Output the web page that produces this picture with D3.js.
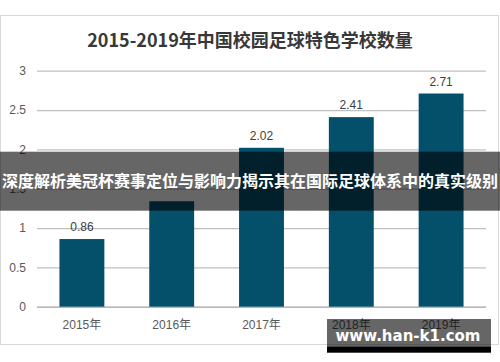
<!DOCTYPE html>
<html>
<head>
<meta charset="utf-8">
<script src="https://cdn.jsdelivr.net/npm/d3@7"></script>
<style>
  body { margin: 0; background: #fff; }
  svg { display: block; }
</style>
</head>
<body>
<svg id="svg" width="500" height="362"></svg>
<script>
// データ
var years = ["2015年", "2016年", "2017年", "2018年", "2019年"]
var counts = [0.86, 1.34, 2.02, 2.41, 2.71]
var yTicks = [0, 0.5, 1, 1.5, 2, 2.5, 3]
var tickLabels = ["0", "0.5", "1", "1.5", "2", "2.5", "3"]
var title = "2015-2019年中国校园足球特色学校数量"
var banner = "深度解析美冠杯赛事定位与影响力揭示其在国际足球体系中的真实级别"
var mark = "www.han-k1.com"

var svg = d3.select("svg"),
    width = 500,
    height = 362

var numFont = "'Liberation Sans', Arial, 'Noto Sans CJK SC', sans-serif"
var cjkFont = "'Noto Sans CJK SC', 'Liberation Sans', sans-serif"

// 帯の位置
var bandTop = 151.7, bandH = 59

// 外枠
svg.append("rect")
  .attr("x", 0.5).attr("y", 15.5)
  .attr("width", 498).attr("height", 329)
  .attr("fill", "#fff")
  .attr("stroke", "#d9d9d9")

// タイトル
svg.append("text")
  .attr("x", 250).attr("y", 47)
  .attr("text-anchor", "middle")
  .attr("font-family", cjkFont)
  .attr("font-weight", "bold")
  .attr("font-size", 18)
  .attr("fill", "#383838")
  .text(title)

var x = d3.scaleBand()
  .domain(years)
  .range([37, 486])
  .paddingInner(0.5)
  .paddingOuter(0.25)

var y = d3.scaleLinear()
  .domain([0, 3])
  .range([306.7, 70.7])

// 目盛り線
var yAxis = d3.axisLeft(y)
  .tickValues(yTicks)
  .tickSize(-(486 - 37))
  .tickPadding(11)
  .tickFormat(function(d, i) { return tickLabels[i] })

var gy = svg.append("g")
  .attr("transform", "translate(37,0)")
  .call(yAxis)
gy.select(".domain").remove()
gy.selectAll(".tick line")
  .attr("stroke", function(d) { return d === 0 ? "#a0a0a0" : "#c0c0c0" })
  .attr("stroke-width", 1.2)
gy.selectAll(".tick text")
  .attr("font-family", numFont)
  .attr("font-size", 12)
  .attr("fill", "#595959")

// 棒
svg.append("g")
  .selectAll("rect")
  .data(counts)
  .enter().append("rect")
  .attr("x", function(d, i) { return x(years[i]) })
  .attr("y", function(d) { return y(d) })
  .attr("width", x.bandwidth())
  .attr("height", function(d) { return y(0) - y(d) })
  .attr("fill", "#04506b")

// 値ラベル（帯に隠れるものは出さない）
svg.append("g")
  .selectAll("text")
  .data(counts.filter(function(d) {
    var ly = y(d) - 8
    return !(ly > bandTop && ly < bandTop + bandH + 10)
  }))
  .enter().append("text")
  .attr("x", function(d) { return x(years[counts.indexOf(d)]) + x.bandwidth() / 2 })
  .attr("y", function(d) { return y(d) - 8 })
  .attr("text-anchor", "middle")
  .attr("font-family", numFont)
  .attr("font-size", 12)
  .attr("fill", "#404040")
  .text(function(d) { return d.toFixed(2) })

// X軸ラベル
var xAxis = d3.axisBottom(x).tickSize(0).tickPadding(14)
var gx = svg.append("g")
  .attr("transform", "translate(0," + y(0) + ")")
  .call(xAxis)
gx.select(".domain").remove()
gx.selectAll(".tick text")
  .attr("font-family", numFont)
  .attr("font-size", 12)
  .attr("fill", "#595959")

// 帯（オーバーレイ）
svg.append("rect")
  .attr("x", 0).attr("y", bandTop)
  .attr("width", width).attr("height", bandH)
  .attr("fill", "rgba(0,0,0,0.6)")

svg.append("text")
  .attr("x", 250).attr("y", 187)
  .attr("text-anchor", "middle")
  .attr("font-family", cjkFont)
  .attr("font-weight", "bold")
  .attr("font-size", 16)
  .attr("fill", "#fff")
  .text(banner)

// ウォーターマーク
svg.append("rect")
  .attr("x", 327).attr("y", 319)
  .attr("width", 164).attr("height", 28)
  .attr("fill", "rgba(0,0,0,0.6)")
svg.append("rect")
  .attr("x", 327).attr("y", 346.7)
  .attr("width", 164).attr("height", 6)
  .attr("fill", "#000")
svg.append("text")
  .attr("x", 408).attr("y", 341)
  .attr("text-anchor", "middle")
  .attr("font-family", "'DejaVu Sans', sans-serif")
  .attr("font-weight", "bold")
  .attr("font-size", 15)
  .attr("fill", "#fff")
  .text(mark)
</script>
</body>
</html>
